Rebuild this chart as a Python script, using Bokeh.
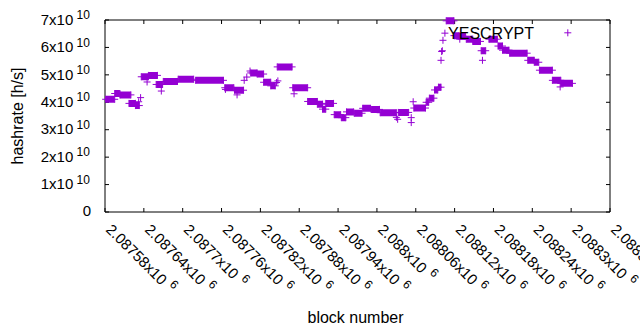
import math
from bokeh.plotting import figure
from bokeh.models import Range1d, ColumnDataSource, LabelSet, Label
from bokeh.core.properties import value
from bokeh.embed import file_html
from bokeh.resources import INLINE

# ---------------- data ----------------
series_name = "YESCRYPT"
x_title = "block number"
y_title = "hashrate [h/s]"

# runs of blocks with the same hashrate estimate
run_start = [2087581, 2087595, 2087603, 2087617, 2087627, 2087636, 2087647, 2087659,
             2087670, 2087693, 2087720, 2087765, 2087780, 2087805, 2087815, 2087825,
             2087836, 2087846, 2087870, 2087893, 2087908, 2087916, 2087921, 2087934,
             2087945, 2087953, 2087965, 2087978, 2087991, 2088005, 2088033, 2088057,
             2088076, 2088081, 2088089, 2088095, 2088107, 2088119, 2088127, 2088138,
             2088148, 2088161, 2088173, 2088187, 2088194, 2088205, 2088233, 2088243,
             2088251, 2088271, 2088284]
run_end = [2087595, 2087603, 2087620, 2087627, 2087633, 2087647, 2087661, 2087669,
           2087692, 2087717, 2087763, 2087779, 2087794, 2087815, 2087825, 2087836,
           2087843, 2087869, 2087893, 2087908, 2087916, 2087921, 2087933, 2087944,
           2087952, 2087964, 2087977, 2087990, 2088004, 2088030, 2088049, 2088075,
           2088080, 2088088, 2088094, 2088099, 2088119, 2088127, 2088137, 2088148,
           2088160, 2088168, 2088186, 2088194, 2088204, 2088232, 2088243, 2088250,
           2088271, 2088284, 2088302]
run_rate = [4.11e10, 4.32e10, 4.27e10, 3.96e10, 3.88e10, 4.93e10, 4.98e10, 4.65e10,
            4.76e10, 4.84e10, 4.80e10, 4.53e10, 4.44e10, 5.07e10, 5.03e10, 4.73e10,
            4.60e10, 5.29e10, 4.53e10, 4.03e10, 3.93e10, 3.75e10, 3.96e10, 3.55e10,
            3.44e10, 3.65e10, 3.60e10, 3.78e10, 3.74e10, 3.62e10, 3.63e10, 3.79e10,
            4.00e10, 4.15e10, 4.45e10, 4.55e10, 6.97e10, 6.43e10, 6.40e10, 6.30e10,
            6.22e10, 5.88e10, 6.30e10, 6.05e10, 5.90e10, 5.79e10, 5.53e10, 5.46e10,
            5.17e10, 4.80e10, 4.69e10]

# single blocks
iso_block = [2087632, 2087635, 2087645, 2087667, 2087766, 2087784, 2087795, 2087799,
             2087804, 2087845, 2087847, 2087872, 2088030, 2088032, 2088053, 2088053,
             2088056, 2088099, 2088100, 2088101, 2088102, 2088105, 2088128, 2088163,
             2088283]
iso_rate = [4.02e10, 4.17e10, 4.74e10, 4.41e10, 4.47e10, 4.27e10, 4.80e10, 4.92e10,
            5.14e10, 4.72e10, 4.78e10, 4.31e10, 3.45e10, 3.38e10, 3.44e10, 3.26e10,
            4.02e10, 5.53e10, 5.85e10, 5.88e10, 6.26e10, 6.52e10, 6.30e10, 5.53e10,
            4.56e10]

x_ticks = [2087580, 2087640, 2087700, 2087760, 2087820, 2087880, 2087940,
           2088000, 2088060, 2088120, 2088180, 2088240, 2088300, 2088360]
x_tick_mant = ["2.08758", "2.08764", "2.0877", "2.08776", "2.08782", "2.08788", "2.08794",
               "2.088", "2.08806", "2.08812", "2.08818", "2.08824", "2.0883", "2.08836"]
x_tick_exp = "6"
y_ticks = [0, 1e10, 2e10, 3e10, 4e10, 5e10, 6e10, 7e10]
y_tick_mant = ["0", "1", "2", "3", "4", "5", "6", "7"]
y_tick_exp = "10"

# ---------------- layout / style ----------------
W, H = 640, 330
PX_L, PX_R, PX_T, PX_B = 104.5, 609.5, 19.5, 211.5   # plot box in canvas pixels
X0, X1 = x_ticks[0], x_ticks[-1]
Y0, Y1 = y_ticks[0], y_ticks[-1]
bpp = (X1 - X0) / (PX_R - PX_L)      # data units per pixel
vpp = (Y1 - Y0) / (PX_B - PX_T)
COL = "#9400D3"
FONT = "Liberation Sans"
TICK_FS, SUP_FS, TITLE_FS = 15, 12, 16
MARK = 7
TL = 4  # tick length, px

p = figure(width=W, height=H,
           x_range=Range1d(X0 - PX_L * bpp, X0 + (W - PX_L) * bpp),
           y_range=Range1d(Y0 - (H - PX_B) * vpp, Y1 + PX_T * vpp),
           x_axis_location=None, y_axis_location=None,
           output_backend="svg", toolbar_location=None,
           background_fill_color="white", border_fill_color="white")
p.min_border = 0
p.outline_line_color = None
p.grid.visible = False

# ---------------- plot box and tics (mirrored, inward) ----------------
p.quad(left=[X0], right=[X1], bottom=[Y0], top=[Y1], fill_color=None,
       line_color="black", line_width=1)
nx, ny = len(x_ticks), len(y_ticks)
p.segment(x0=x_ticks, y0=[Y0] * nx, x1=x_ticks, y1=[Y0 + TL * vpp] * nx,
          line_color="black", line_width=1)
p.segment(x0=x_ticks, y0=[Y1] * nx, x1=x_ticks, y1=[Y1 - TL * vpp] * nx,
          line_color="black", line_width=1)
p.segment(x0=[X0] * ny, y0=y_ticks, x1=[X0 + TL * bpp] * ny, y1=y_ticks,
          line_color="black", line_width=1)
p.segment(x0=[X1] * ny, y0=y_ticks, x1=[X1 - TL * bpp] * ny, y1=y_ticks,
          line_color="black", line_width=1)

# ---------------- marks ----------------
band_h = MARK * vpp
p.hbar(y=run_rate, left=run_start, right=run_end, height=band_h,
       fill_color=COL, line_color=None)
for bx in (run_start, run_end):
    p.scatter(x=bx, y=run_rate, marker="cross", size=MARK, line_color=COL, line_width=1)
p.scatter(x=iso_block, y=iso_rate, marker="cross", size=MARK, line_color=COL, line_width=1)

# ---------------- tick labels (mantissa x10 + superscript exponent) ----------------
ADV = {c: 0.556 for c in "0123456789"}
ADV.update({".": 0.278, "x": 0.5})


def text_w(s, fs):
    return sum(ADV[c] for c in s) * fs


c45 = math.cos(math.pi / 4)
XM_DX, XM_DY, X_GAP, X_RISE = 4.0, -14.5, 5.5, 5.5
xm_text, xs_xoff, xs_yoff = [], [], []
for m in x_tick_mant:
    t = m + "x10"
    xm_text.append(t)
    s = text_w(t, TICK_FS) + X_GAP
    xs_xoff.append(XM_DX + s * c45 + X_RISE * c45)
    xs_yoff.append(XM_DY - s * c45 + X_RISE * c45)

src_xm = ColumnDataSource(dict(x=x_ticks, y=[Y0] * nx, text=xm_text))
p.add_layout(LabelSet(source=src_xm, x="x", y="y", text="text", x_offset=XM_DX,
                      y_offset=XM_DY, angle=-math.pi / 4, text_align="left",
                      text_baseline="middle", text_font=value(FONT),
                      text_font_size=value(f"{TICK_FS}px"), text_color="black"))
src_xs = ColumnDataSource(dict(x=x_ticks, y=[Y0] * nx, text=[x_tick_exp] * nx,
                               xo=xs_xoff, yo=xs_yoff))
p.add_layout(LabelSet(source=src_xs, x="x", y="y", text="text", x_offset="xo",
                      y_offset="yo", angle=-math.pi / 4, text_align="left",
                      text_baseline="middle", text_font=value(FONT),
                      text_font_size=value(f"{SUP_FS}px"), text_color="black"))

ym_text, ym_xoff = [], []
ysup_y, ysup_t = [], []
for v, m in zip(y_ticks, y_tick_mant):
    if v == 0:
        ym_text.append(m)
        ym_xoff.append(-13.8)
    else:
        ym_text.append(m + "x10")
        ym_xoff.append(-31.7)
        ysup_y.append(v)
        ysup_t.append(y_tick_exp)

src_ym = ColumnDataSource(dict(x=[X0] * ny, y=y_ticks, text=ym_text, xo=ym_xoff))
p.add_layout(LabelSet(source=src_ym, x="x", y="y", text="text", x_offset="xo",
                      y_offset=0.8, text_align="right", text_baseline="middle",
                      text_font=value(FONT), text_font_size=value(f"{TICK_FS}px"),
                      text_color="black"))
src_ys = ColumnDataSource(dict(x=[X0] * len(ysup_y), y=ysup_y, text=ysup_t))
p.add_layout(LabelSet(source=src_ys, x="x", y="y", text="text", x_offset=-28.5,
                      y_offset=5.3, text_align="left", text_baseline="middle",
                      text_font=value(FONT), text_font_size=value(f"{SUP_FS}px"),
                      text_color="black"))

# ---------------- titles and key ----------------
p.add_layout(Label(x=(X0 + X1) / 2, y=Y0, x_offset=-2, y_offset=-105.5, text=x_title,
                   text_align="center", text_baseline="middle", text_font=FONT,
                   text_font_size=f"{TITLE_FS}px", text_color="black"))
p.add_layout(Label(x=X0, y=(Y0 + Y1) / 2, x_offset=-88, y_offset=0, text=y_title,
                   angle=math.pi / 2, text_align="center", text_baseline="middle",
                   text_font=FONT, text_font_size=f"{TITLE_FS}px", text_color="black"))
p.add_layout(Label(x=X1, y=Y1, x_offset=-76, y_offset=-13, text=series_name,
                   text_align="right", text_baseline="middle", text_font=FONT,
                   text_font_size=f"{TITLE_FS}px", text_color="black"))
p.scatter(x=[X1 - 42.2 * bpp], y=[Y1 - 12.8 * vpp], marker="cross", size=MARK,
          line_color=COL, line_width=1)

open("out.html", "w").write(file_html(p, INLINE))
